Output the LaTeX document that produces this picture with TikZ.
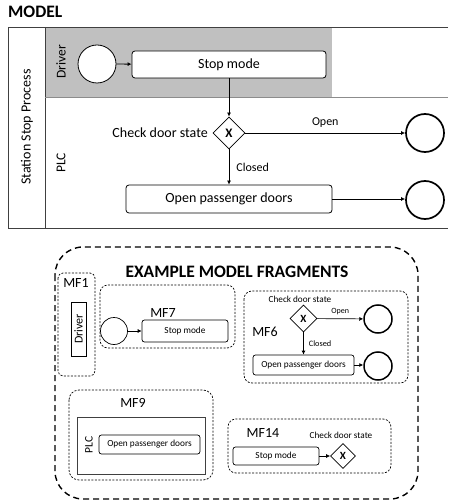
\documentclass[tikz,border=0pt]{standalone}
\usepackage{fontspec}
\setmainfont{Carlito}
\usetikzlibrary{shapes.geometric,arrows.meta}
\definecolor{lanegray}{RGB}{192,192,192}
\tikzset{
  task/.style={draw, rounded corners=3pt, fill=white, line width=0.8pt, inner sep=0pt, font=\fontsize{14}{16}\selectfont},
  stask/.style={draw, rounded corners=2.5pt, fill=white, line width=0.7pt, inner sep=0pt, font=\fontsize{9.3}{11}\selectfont},
  startev/.style={draw, circle, line width=0.8pt, inner sep=0pt, fill=white},
  endev/.style={draw, circle, line width=1.7pt, inner sep=0pt, fill=white},
  gw/.style={draw, diamond, aspect=1, inner sep=0pt, line width=0.8pt, fill=white, font=\bfseries},
  flow/.style={-{Latex[length=4pt,width=4pt]}, line width=0.8pt},
  frag/.style={draw, dash pattern=on 2pt off 1.5pt, line width=0.7pt, rounded corners=8pt},
  lbl/.style={inner sep=0pt},
}
\begin{document}
\begin{tikzpicture}[x=1pt,y=-1pt]
\useasboundingbox (0,0) rectangle (448,502);
% ---------- MODEL ----------
\node[lbl, anchor=base west, font=\fontsize{17.5}{20}\selectfont\bfseries] (title) at (8,18) {MODEL};
\fill[lanegray] (45,27) rectangle (332,97);
\draw[line width=0.8pt, black!75] (448,27) -- (8,27) -- (8,228) -- (448,228);
\draw[line width=0.8pt, black!75] (45,27) -- (45,228);
\draw[line width=0.8pt, black!45] (45,97) -- (448,97);
\node[lbl, rotate=90, font=\fontsize{14}{16}\selectfont] (pool) at (27,127) {Station Stop Process};
\node[lbl, rotate=90, font=\fontsize{13.5}{16}\selectfont] (ldriver) at (61,62) {Driver};
\node[lbl, rotate=90, font=\fontsize{13.5}{16}\selectfont] (lplc) at (61,163) {PLC};

\node[startev, minimum size=38pt] (sM) at (97,64) {};
\node[task, minimum width=194pt, minimum height=27pt] (stopM) at (229,64.5) {Stop mode};
\node[gw, minimum size=32pt, font=\fontsize{13}{15}\selectfont\bfseries] (gwM) at (229,133) {X};
\node[endev, minimum size=38pt] (e1M) at (425,133) {};
\node[task, minimum width=206pt, minimum height=28pt] (openM) at (229,199) {Open passenger doors};
\node[endev, minimum size=38pt] (e2M) at (425,200) {};
\node[lbl, anchor=east, font=\fontsize{14}{16}\selectfont] (cdsM) at (208,133) {Check door state};

\draw[flow] (sM) -- (stopM);
\draw[flow] (stopM) -- (gwM);
\draw[flow] (gwM) -- node[lbl, above=5pt, font=\fontsize{12}{14}\selectfont] (openlM) {Open} (e1M);
\draw[flow] (gwM) -- node[lbl, right=7pt, font=\fontsize{12}{14}\selectfont] (closedlM) {Closed} (openM);
\draw[flow] (openM.east) -- (e2M.west |- openM.east);

% ---------- EXAMPLE MODEL FRAGMENTS ----------
\draw[dash pattern=on 6pt off 4pt, line width=1.4pt, rounded corners=28pt] (55,247) rectangle (418,499);
\node[lbl, font=\fontsize{17.5}{20}\selectfont\bfseries] (ftitle) at (237,272) {EXAMPLE MODEL FRAGMENTS};

% MF1
\draw[frag, rounded corners=5pt] (58,273) rectangle (95,376);
\node[lbl, font=\fontsize{14}{16}\selectfont] (mf1) at (76,283) {MF1};
\node[draw, line width=0.7pt, minimum width=15pt, minimum height=54pt, inner sep=0pt] (drvbox) at (78.5,329) {};
\node[lbl, rotate=90, font=\fontsize{12}{14}\selectfont] (drvtxt) at (drvbox) {Driver};

% MF7
\draw[frag] (100,285) rectangle (235,348);
\node[lbl, font=\fontsize{14}{16}\selectfont] (mf7) at (163,313) {MF7};
\node[startev, minimum size=27pt, line width=0.7pt] (s7) at (114,331) {};
\node[stask, minimum width=86pt, minimum height=22pt] (stop7) at (185,331) {Stop mode};
\draw[flow, line width=0.7pt] (s7) -- (stop7);

% MF6
\draw[frag] (244,291) rectangle (408,383);
\node[lbl, font=\fontsize{9.2}{11}\selectfont] (cds6) at (300,299) {Check door state};
\node[gw, minimum size=27pt, line width=0.7pt, font=\fontsize{11}{13}\selectfont\bfseries] (gw6) at (303.5,318.5) {X};
\node[endev, minimum size=28pt, line width=1.5pt] (e61) at (378,319) {};
\node[lbl, font=\fontsize{14}{16}\selectfont] (mf6) at (265,332) {MF6};
\node[stask, minimum width=101pt, minimum height=20pt] (open6) at (303.5,365) {Open passenger doors};
\node[endev, minimum size=28pt, line width=1.5pt] (e62) at (378,366) {};
\draw[flow, line width=0.7pt] (gw6) -- node[lbl, above=4pt, font=\fontsize{8}{10}\selectfont] (openl6) {Open} (e61);
\draw[flow, line width=0.7pt] (gw6) -- node[lbl, right=5pt, font=\fontsize{8.3}{10}\selectfont] (closedl6) {Closed} (open6);
\draw[flow, line width=0.7pt] (open6.east) -- (e62.west |- open6.east);

% MF9
\draw[frag, rounded corners=10pt] (69,390) rectangle (213,480);
\node[lbl, font=\fontsize{14}{16}\selectfont] (mf9) at (133,403) {MF9};
\node[draw, line width=0.8pt, black!75, minimum width=128pt, minimum height=57pt, inner sep=0pt] (plcbox) at (141,445.5) {};
\node[lbl, rotate=90, font=\fontsize{11.5}{13}\selectfont] (plc9) at (89,445) {PLC};
\node[stask, minimum width=101pt, minimum height=19pt] (open9) at (149.5,444.5) {Open passenger doors};

% MF14
\draw[frag] (228,419) rectangle (391,473);
\node[lbl, font=\fontsize{14}{16}\selectfont] (mf14) at (263,433) {MF14};
\node[lbl, font=\fontsize{9.2}{11}\selectfont] (cds14) at (341,435) {Check door state};
\node[stask, minimum width=86pt, minimum height=18pt] (stop14) at (276,456) {Stop mode};
\node[gw, minimum size=25pt, line width=0.7pt, font=\fontsize{11}{13}\selectfont\bfseries] (gw14) at (343,456) {X};
\draw[flow, line width=0.7pt] (stop14) -- (gw14);
\end{tikzpicture}
\end{document}
